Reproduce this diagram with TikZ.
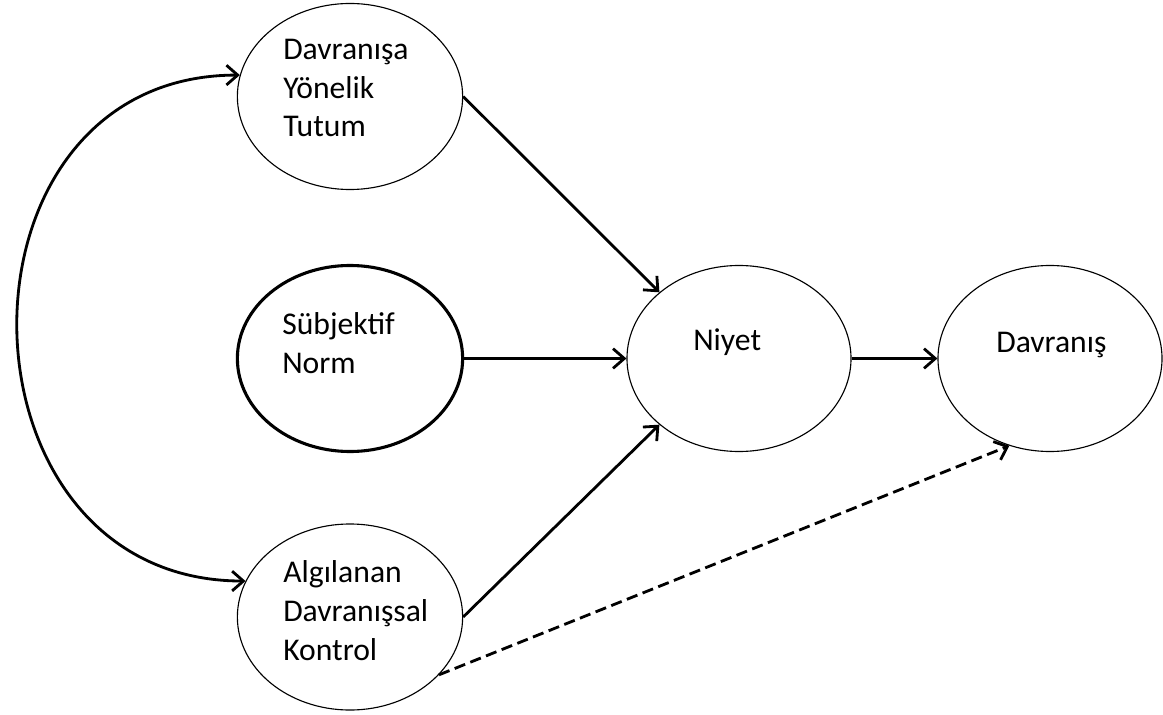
\documentclass[tikz,border=0pt]{standalone}
\usepackage{fontspec}
\setmainfont{Carlito}
\usetikzlibrary{shapes.geometric,arrows.meta}

\tikzset{
  oval/.style={draw, ellipse, line width=0.8pt, inner sep=0pt,
    minimum width=5.63cm, minimum height=4.65cm},
  kalinoval/.style={oval, line width=2.2pt},
  etiket/.style={anchor=base west, inner sep=0pt, align=left,
    font=\fontsize{22.5}{27.5}\selectfont},
  ok/.style={line width=2pt, -{Straight Barb[length=8pt,width=14pt]}},
  ciftok/.style={line width=2pt,
    {Straight Barb[length=8pt,width=14pt]}-{Straight Barb[length=8pt,width=14pt]}},
  kesikok/.style={ok, dash pattern=on 8pt off 4pt}
}

\begin{document}
\begin{tikzpicture}[x=0.025cm, y=-0.025cm]
\useasboundingbox (0,0) rectangle (1163,715);

% ovals
\node[oval] (tutum) at (350,96.5) {};
\node[kalinoval] (norm) at (350,358.5) {};
\node[oval] (kontrol) at (350,617) {};
\node[oval, minimum width=5.6cm] (niyet) at (739,358.5) {};
\node[oval, minimum width=5.6cm] (davranis) at (1050,358.5) {};

% texts (anchored at the last line)
\node[etiket] (tutumtext) at (283,137) {Davranışa\\Yönelik\\Tutum};
\node[etiket] (normtext) at (282,373) {Sübjektif\\Norm};
\node[etiket] (kontroltext) at (283,660) {Algılanan\\Davranışsal\\Kontrol};
\node[etiket] (niyettext) at (693,350) {Niyet};
\node[etiket] (davranistext) at (996,352) {Davranış};

% arrows
\draw[ok] (tutum.east) -- (niyet.north west);
\draw[ok] (norm.east) -- (niyet.west);
\draw[ok] (kontrol.east) -- (niyet.south west);
\draw[ok] (niyet.east) -- (davranis.west);
\draw[kesikok] (kontrol.-33) -- (davranis.245);
\draw[ciftok] (tutum.169) .. controls +(-300,0) and +(-300,0) .. (kontrol.161);
\end{tikzpicture}
\end{document}
